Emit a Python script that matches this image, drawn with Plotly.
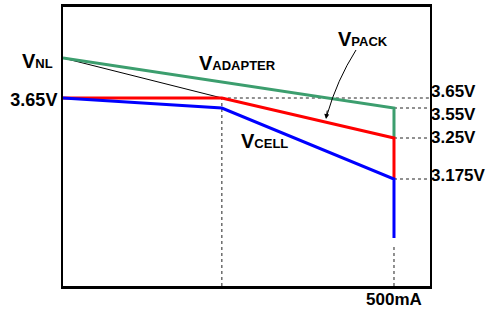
import plotly.graph_objects as go

# ---- data (schematic units: x in mA, y in arbitrary level units) ----
i_knee = 240
i_max = 500
x_range_max = 554.4

v_nl = 228
v_cv = 188          # 3.65V regulation level
adapter_end = 178
pack_end = 148
cell_knee = 178
cell_end = 107
cell_bottom = 48
mark_bottom = 39

adapter_x = [0, i_max, i_max]
adapter_y = [v_nl, adapter_end, pack_end]

pack_x = [0, i_knee, i_max, i_max]
pack_y = [v_cv, v_cv, pack_end, cell_end]

cell_x = [0, i_knee, i_max, i_max]
cell_y = [v_cv, cell_knee, cell_end, cell_bottom]

load_x = [0, i_knee]
load_y = [v_nl, v_cv]

right_tick_vals = [195, 172, 149, 111]
right_tick_text = ["3.65V", "3.55V", "3.25V", "3.175V"]
left_tick_vals = [186]
left_tick_text = ["3.65V"]
x_tick_vals = [500]
x_tick_text = ["500mA"]

GREEN = "#3c9e6e"
RED = "#ff0000"
BLUE = "#0000ff"
FONT = "Liberation Sans, Arial, sans-serif"

fig = go.Figure()

# dotted guide lines
dot = dict(color="#222222", width=1, dash="dot")
fig.add_trace(go.Scatter(x=[i_knee, x_range_max], y=[v_cv, v_cv], mode="lines", line=dot))
fig.add_trace(go.Scatter(x=[i_knee, i_knee], y=[0, v_cv], mode="lines", line=dot))
for lvl in [adapter_end, pack_end, cell_end]:
    fig.add_trace(go.Scatter(x=[i_max, x_range_max], y=[lvl, lvl], mode="lines", line=dot))
fig.add_trace(go.Scatter(x=[i_max, i_max], y=[0, mark_bottom], mode="lines", line=dot))

# thin load line
fig.add_trace(go.Scatter(x=load_x, y=load_y, mode="lines", line=dict(color="black", width=1)))

fig.add_trace(go.Scatter(x=adapter_x, y=adapter_y, mode="lines", line=dict(color=GREEN, width=3)))
fig.add_trace(go.Scatter(x=pack_x, y=pack_y, mode="lines", line=dict(color=RED, width=3)))
fig.add_trace(go.Scatter(x=cell_x, y=cell_y, mode="lines", line=dict(color=BLUE, width=3)))

# right-side labels via a secondary axis
fig.add_trace(go.Scatter(x=[None], y=[None], yaxis="y2", mode="lines"))

# pixel -> data helpers for text / arrow placement
px = lambda p: (p - 63) / 367 * x_range_max
py = lambda p: 286 - p

# curved arrow for V_PACK
p0 = (px(356), py(50))
c = (px(337), py(80))
p2 = (px(327), py(115))
fig.add_shape(type="path", xref="x", yref="y",
              path=f"M {p0[0]},{p0[1]} Q {c[0]},{c[1]} {p2[0]},{p2[1]}",
              line=dict(color="black", width=1))
fig.add_annotation(x=px(326), y=py(119), ax=1.5, ay=-10, xref="x", yref="y",
                   text="", showarrow=True, arrowhead=2, arrowsize=1, arrowwidth=1,
                   arrowcolor="black")


def label(main, sub):
    return f"<b>{main}<span style='font-size:13px'>{sub}</span></b>"


lab = dict(family=FONT, size=20, color="black")
fig.add_annotation(x=px(197), y=py(63), text=label("V", "ADAPTER"), showarrow=False,
                   xanchor="left", yanchor="middle", font=lab)
fig.add_annotation(x=px(336), y=py(39), text=label("V", "PACK"), showarrow=False,
                   xanchor="left", yanchor="middle", font=lab)
fig.add_annotation(x=px(239), y=py(141), text=label("V", "CELL"), showarrow=False,
                   xanchor="left", yanchor="middle", font=lab)
fig.add_annotation(x=(55 - 63) / 367, xref="paper", y=py(61), text=label("V", "NL"),
                   showarrow=False, xanchor="right", yanchor="middle", font=lab)

fig.update_layout(
    width=503, height=310,
    margin=dict(l=63, r=73, t=7, b=24),
    paper_bgcolor="white", plot_bgcolor="white",
    showlegend=False,
    xaxis=dict(range=[0, x_range_max], showgrid=False, zeroline=False, automargin=False,
               showline=True, linecolor="black", linewidth=3, mirror=True,
               tickvals=x_tick_vals, ticktext=[f"<b>{t}</b>" for t in x_tick_text],
               ticks="", ticklabelstandoff=-4,
               tickfont=dict(family=FONT, size=17, color="black")),
    yaxis=dict(range=[0, 279], showgrid=False, zeroline=False, automargin=False,
               showline=True, linecolor="black", linewidth=2, mirror=True,
               tickvals=left_tick_vals, ticktext=[f"<b>{t}</b>" for t in left_tick_text],
               ticks="", tickfont=dict(family=FONT, size=18, color="black")),
    yaxis2=dict(range=[0, 279], overlaying="y", side="right", showgrid=False,
                zeroline=False, showline=False, automargin=False,
                tickvals=right_tick_vals, ticktext=[f"<b>{t}</b>" for t in right_tick_text],
                ticks="", tickfont=dict(family=FONT, size=17, color="black")),
)

fig.write_html("out.html", config={"displayModeBar": False},
               post_script="document.body.style.margin='0';")
